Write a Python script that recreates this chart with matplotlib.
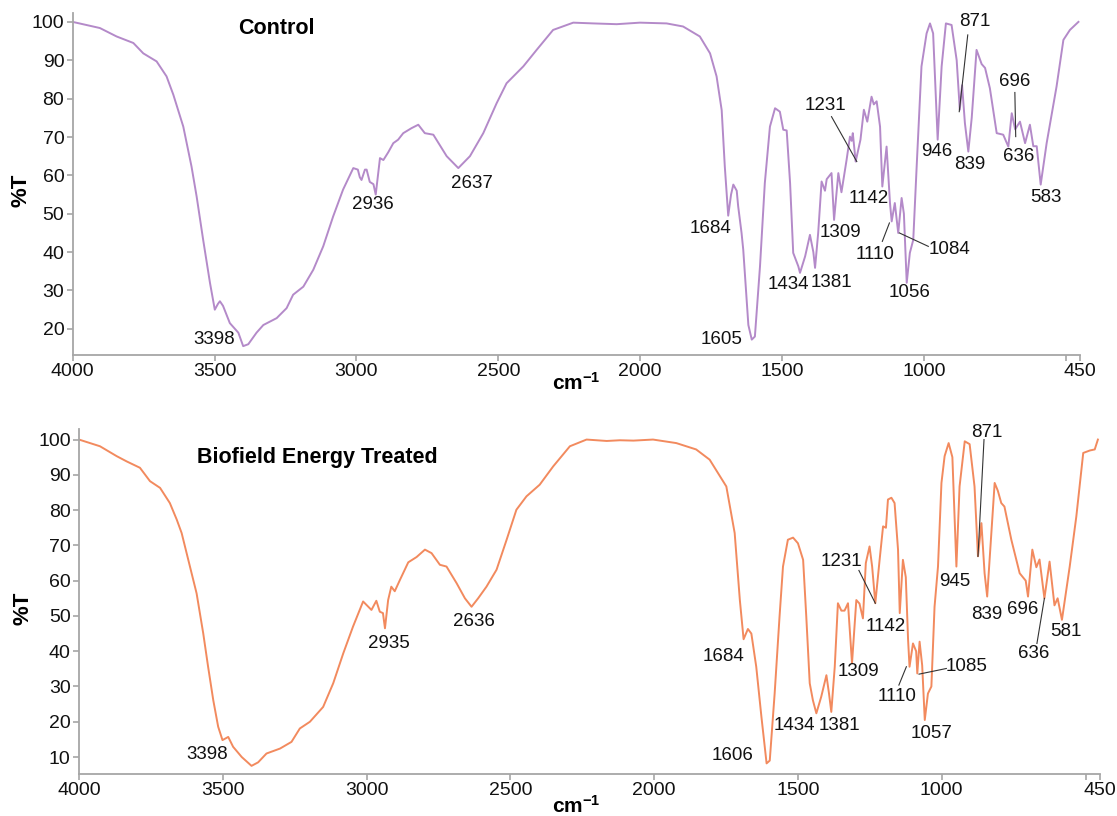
import matplotlib
matplotlib.use("Agg")
import matplotlib.pyplot as plt

plt.rcParams['font.family'] = ['Liberation Sans', 'DejaVu Sans']
plt.rcParams['mathtext.fontset'] = 'custom'
plt.rcParams['mathtext.rm'] = 'Liberation Sans'
plt.rcParams['mathtext.bf'] = 'Liberation Sans:bold'

# espectro control (numero de onda, %T)
wn_control = [4000, 3904, 3845, 3786, 3751, 3704, 3669, 3645, 3610, 3581, 3563, 3540, 3516, 3499,
              3488, 3481, 3470, 3446, 3416, 3399, 3381, 3352, 3328, 3281, 3246, 3223, 3187, 3152,
              3117, 3082, 3047, 3011, 2995, 2988, 2982, 2970, 2964, 2953, 2940, 2932, 2917, 2905,
              2888, 2870, 2853, 2835, 2806, 2782, 2759, 2729, 2682, 2641, 2600, 2553, 2506, 2471,
              2412, 2365, 2307, 2236, 2165, 2083, 2001, 1907, 1849, 1790, 1754, 1731, 1713, 1702,
              1690, 1680, 1672, 1660, 1655, 1643, 1637, 1619, 1607, 1596, 1578, 1561, 1543, 1525,
              1508, 1496, 1484, 1472, 1461, 1443, 1437, 1419, 1402, 1390, 1384, 1373, 1361, 1349,
              1343, 1326, 1317, 1302, 1291, 1273, 1261, 1255, 1251, 1241, 1224, 1212, 1200, 1185,
              1177, 1167, 1155, 1147, 1132, 1120, 1114, 1103, 1091, 1079, 1071, 1061, 1050, 1038,
              1026, 1009, 991, 979, 968, 952, 938, 923, 903, 885, 874, 866, 856, 844, 832, 815,
              797, 785, 768, 744, 721, 703, 691, 679, 662, 644, 627, 615, 603, 589, 568, 533,
              509, 486, 456]
t_control = [100, 98.4, 96.2, 94.5, 91.8, 89.7, 85.8, 81, 72.7, 62.3, 54.5, 43.2, 32, 25,
             26.5, 27.2, 26, 21.5, 19, 15.5, 16, 19, 21, 22.8, 25.4, 28.9, 31, 35.4,
             41.5, 49.3, 56.3, 61.9, 61.5, 59.5, 58.8, 61.5, 61.5, 58.3, 57.7, 55, 64.5, 64,
             66, 68.4, 69.3, 71, 72.3, 73.2, 71, 70.6, 65, 61.9, 65, 71, 78.8, 84,
             88.4, 92.7, 97.9, 99.8, 99.6, 99.4, 99.8, 99.6, 98.8, 96.2, 91.8, 85.8, 77, 62.3,
             49.5, 55, 57.6, 56, 52, 45, 40.6, 21, 17.2, 18, 36.3, 58, 72.7, 77.5,
             76.6, 71.9, 71.7, 58, 39.8, 36.3, 34.6, 38.9, 44.5, 40, 35.9, 45, 58.4, 56,
             59, 60.6, 48.4, 60.6, 55.6, 64, 70.1, 69, 71, 63.6, 69.3, 77.1, 74, 80.5,
             78.5, 79.3, 72.7, 57.1, 67.5, 52.8, 48, 52.8, 45, 54.1, 50, 32, 39.8, 43.2,
             62.3, 88.4, 97, 99.6, 97, 69.3, 88.4, 99.6, 99.2, 90, 77.1, 83.5, 73.6, 66.2, 75, 92.7,
             89, 88, 82.7, 71, 70.6, 67.5, 76.2, 72, 74, 68.4, 73.2, 67.6, 67.6, 57.6, 68.4, 83.2,
             95.3, 97.9, 100]

# espectro tratado
wn_treated = [4000, 3927, 3869, 3834, 3788, 3753, 3718, 3684, 3660, 3643, 3614, 3591, 3568, 3551,
              3533, 3516, 3501, 3481, 3464, 3434, 3400, 3377, 3348, 3301, 3261, 3232, 3197, 3151,
              3116, 3081, 3047, 3012, 2989, 2983, 2966, 2954, 2943, 2936, 2925, 2914, 2902, 2884,
              2855, 2826, 2797, 2774, 2745, 2722, 2687, 2658, 2635, 2612, 2583, 2548, 2513, 2479,
              2444, 2398, 2351, 2293, 2235, 2165, 2119, 2072, 2004, 1923, 1854, 1807, 1749, 1720,
              1702, 1689, 1674, 1662, 1645, 1627, 1609, 1598, 1581, 1564, 1552, 1535, 1517, 1500,
              1482, 1471, 1459, 1448, 1436, 1419, 1401, 1392, 1384, 1372, 1361, 1349, 1338, 1326,
              1312, 1297, 1286, 1274, 1264, 1251, 1242, 1231, 1216, 1204, 1194, 1187, 1175, 1164,
              1152, 1146, 1135, 1125, 1117, 1112, 1100, 1089, 1085, 1077, 1068, 1059, 1048, 1036,
              1025, 1013, 1001, 990, 976, 963, 949, 938, 920, 903, 886, 874, 862, 851, 842, 829,
              816, 805, 793, 782, 758, 729, 708, 700, 685, 671, 660, 643, 625, 608, 597, 582,
              555, 532, 508, 485, 468, 457]
t_treated = [100, 98.1, 95.3, 93.8, 92, 88.2, 86.3, 82, 77.3, 73.5, 64, 56.4, 45.1, 35.6,
             26.1, 18.6, 14.8, 15.7, 12.9, 10, 7.5, 8.5, 11, 12.4, 14.3, 18.1, 20, 24.2,
             30.9, 39.4, 47, 54.1, 52.2, 51.7, 54.3, 51.2, 50.8, 46.5, 54.5, 58.3, 57, 60.2,
             65.2, 66.7, 68.8, 67.8, 64.5, 64, 59.3, 55, 52.6, 55, 58.3, 63.1, 71.6, 80.1,
             83.9, 87.2, 92.4, 98.1, 100, 99.6, 99.8, 99.7, 100, 99, 97.2, 94.3, 86.7, 73.5,
             54.5, 43.4, 46.3, 45, 35.6, 21.4, 8.2, 9, 28, 49.8, 64, 71.6, 72.2, 70.6,
             65.9, 49.8, 30.9, 26.1, 22.4, 27.1, 33.2, 28, 22.8, 35.6, 53.6, 51.5, 51.5, 53.6,
             36.6, 54.5, 53.5, 49.3, 65, 69.7, 64, 53.6, 65.9, 75.4, 75, 83, 83.5, 82,
             68.8, 50.8, 65.9, 61, 43.2, 35.6, 42.2, 40, 33.7, 42.7, 36, 20.5, 28, 30,
             52.6, 64, 87.7, 95.3, 99, 95, 64, 86.7, 99.5, 98.7, 86.7, 66.9, 76.3, 62.1, 55.5, 71.6,
             87.7, 85.5, 82, 81, 71.6, 62.1, 60, 55.5, 68.8, 63.8, 66, 55, 65.4, 53, 55, 48.9,
             64, 78.2, 96.2, 96.9, 97.2, 100]

# etiquetas de picos: texto, x, y del texto
labels_control = [("3398", 3502, 17.2), ("2936", 2941, 52.3), ("2637", 2593, 58),
                  ("1684", 1754, 46.1), ("1605", 1714, 17.2), ("1434", 1478, 31.5),
                  ("1381", 1326, 32.1), ("1309", 1296, 45), ("1231", 1346, 78.1),
                  ("1142", 1196, 54.1), ("1110", 1173, 39.3), ("1084", 909, 40.8),
                  ("1056", 1052, 29.6), ("946", 954, 66.2), ("839", 838, 62.8),
                  ("871", 820, 100.1), ("696", 680, 84.5), ("636", 668, 64.8),
                  ("583", 570, 54.3)]
leaders_control = [((1326, 75.3), (1237, 63.6)), ((1147, 42.8), (1122, 47.6)),
                   ((1087, 45), (985, 41.5)), ((846, 96.6), (876, 76.6)),
                   ((680, 81.6), (677, 70.1))]

labels_treated = [("3398", 3556, 10.7), ("2935", 2921, 42.2), ("2636", 2626, 48.4),
                  ("1684", 1758, 38.4), ("1606", 1726, 10.5), ("1434", 1511, 19),
                  ("1381", 1355, 19), ("1309", 1291, 34.2), ("1231", 1349, 65.3),
                  ("1142", 1196, 47), ("1110", 1154, 27.3), ("1085", 915, 35.6),
                  ("1057", 1036, 16.7), ("945", 955, 59.7), ("839", 845, 50.3),
                  ("871", 845, 102.1), ("696", 718, 51.7), ("636", 679, 39.4),
                  ("581", 570, 45.5)]
leaders_treated = [((1288, 62.9), (1231, 53.6)), ((1149, 30.4), (1123, 35.6)),
                   ((1079, 33.5), (984, 35.1)), ((853, 100), (874, 66.9)),
                   ((669, 42.2), (643, 55))]

xticks = [4000, 3500, 3000, 2500, 2000, 1500, 1000, 500, 450]
xticklabels = ["4000", "3500", "3000", "2500", "2000", "1500", "1000", "", "450"]

fig = plt.figure(figsize=(11.17, 8.16), dpi=100)

def panel(rect, wn, t, color, ylim, yticks, title, title_pos, labels, leaders):
    ax = fig.add_axes(rect)
    ax.plot(wn, t, color=color, lw=1.4)
    ax.set_xlim(4000, 450)
    ax.set_ylim(*ylim)
    ax.set_xticks(xticks)
    ax.set_xticklabels(xticklabels)
    ax.set_yticks(yticks)
    for s in ["top", "right"]:
        ax.spines[s].set_visible(False)
    for s in ["left", "bottom"]:
        ax.spines[s].set_color("#a6a6a6")
        ax.spines[s].set_linewidth(1.3)
    ax.tick_params(colors="#a6a6a6", labelcolor="#111111", labelsize=14, length=4, width=1.2, pad=2)
    ax.text(title_pos[0], title_pos[1], title, transform=ax.transAxes, fontsize=15.5,
            fontweight="bold", ha="center", va="center")
    for txt, x, y in labels:
        ax.text(x, y, txt, fontsize=13.5, ha="center", va="center", color="#111111")
    for (x0, y0), (x1, y1) in leaders:
        ax.plot([x0, x1], [y0, y1], color="#333333", lw=0.8)
    return ax

panel([0.065, 0.565, 0.902, 0.419], wn_control, t_control, "#b48ac9", (13.2, 102.3),
      range(20, 101, 10), "Control", (0.2018, 0.956), labels_control, leaders_control)
panel([0.0707, 0.0515, 0.914, 0.4228], wn_treated, t_treated, "#f28a5e", (5.2, 103),
      range(10, 101, 10), "Biofield Energy Treated", (0.233, 0.916), labels_treated, leaders_treated)

fig.text(0.516, 0.531, r"$\mathbf{cm^{-1}}$", fontsize=15, ha="center", va="center")
fig.text(0.516, 0.013, r"$\mathbf{cm^{-1}}$", fontsize=15, ha="center", va="center")
fig.text(0.019, 1 - 190 / 816, "%T", fontsize=16, fontweight="bold", rotation=90, ha="center", va="center")
fig.text(0.021, 1 - 608 / 816, "%T", fontsize=16, fontweight="bold", rotation=90, ha="center", va="center")

fig.savefig("out.png", dpi=100)
